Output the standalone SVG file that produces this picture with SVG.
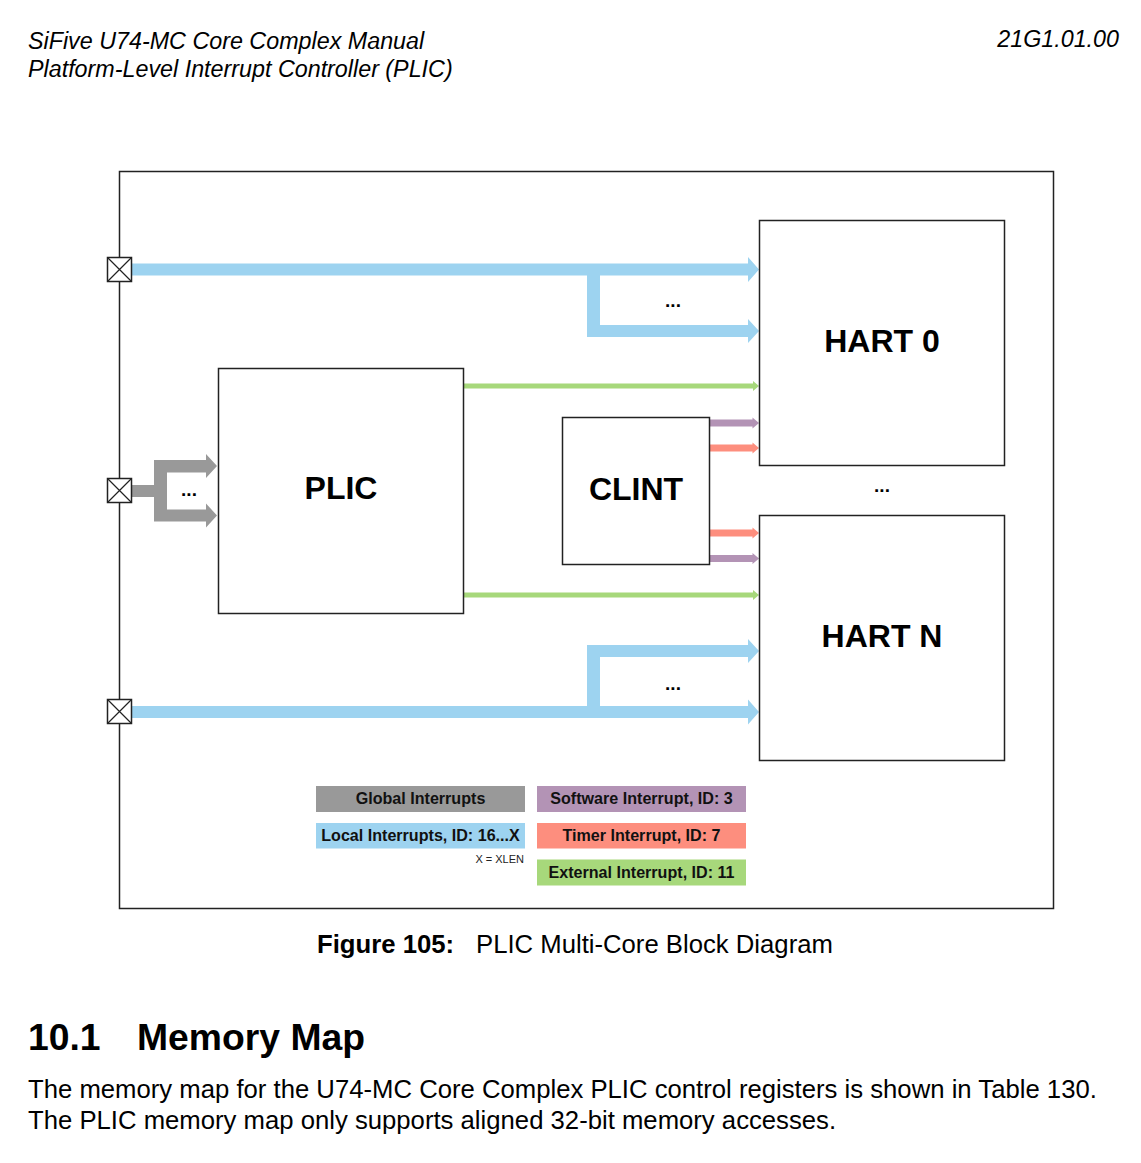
<svg xmlns="http://www.w3.org/2000/svg" width="1141" height="1163" viewBox="0 0 1141 1163">
<style>
.hdr{font-family:"Liberation Sans",Arial,sans-serif;font-style:italic;font-size:23.3px;fill:#000}
.box{fill:#fff;stroke:#222;stroke-width:1.5}
.big{font-family:"Liberation Sans",Arial,sans-serif;font-weight:bold;font-size:32px;fill:#000;text-anchor:middle}
.dots{font-family:"Liberation Sans",Arial,sans-serif;font-weight:bold;font-size:19px;fill:#000;text-anchor:middle}
.leg{font-family:"Liberation Sans",Arial,sans-serif;font-weight:bold;font-size:16.1px;fill:#111;text-anchor:middle}
.blue{fill:#9dd3f0}
.gray{fill:#999}
.green{fill:#a7d87b}
.purple{fill:#b393b5}
.salmon{fill:#fd8e7e}
.jb{fill:#fff;stroke:#222;stroke-width:1.5}
.body{font-family:"Liberation Sans",Arial,sans-serif;font-size:25.7px;fill:#000}
</style>
<text class="hdr" x="28" y="49">SiFive U74-MC Core Complex Manual</text>
<text class="hdr" x="28" y="77">Platform-Level Interrupt Controller (PLIC)</text>
<text class="hdr" x="1119" y="47" text-anchor="end">21G1.01.00</text>

<rect x="119.5" y="171.5" width="934" height="737" fill="none" stroke="#222" stroke-width="1.5"/>

<g id="connectors">
<path class="blue" d="M132,263.5 H748 V257 L759,269.5 L748,282 V275.5 H132 Z"/>
<path class="blue" d="M587,275 H600 V325 H748 V319 L759,331 L748,343 V337 H587 Z"/>
<path class="blue" d="M132,706 H748 V699.5 L759,712 L748,724.5 V718 H132 Z"/>
<path class="blue" d="M587,706 V645 H748 V639 L759,651 L748,663 V657 H600 V706 Z"/>
<path class="gray" d="M132,485 H154 V460 H206 V454 L217,466 L206,478 V472.5 H167 V509.5 H206 V503.5 L217,515.5 L206,527.5 V521.5 H154 V497 H132 Z"/>
<path class="green" d="M464,383.5 H753 V381 L759,386 L753,391 V388.5 H464 Z"/>
<path class="green" d="M464,592.5 H753 V590 L759,595 L753,600 V597.5 H464 Z"/>
<path class="purple" d="M710,419.5 H752.5 V417.5 L759,423 L752.5,428.5 V426.5 H710 Z"/>
<path class="salmon" d="M710,444.5 H752.5 V442.5 L759,448 L752.5,453.5 V451.5 H710 Z"/>
<path class="salmon" d="M710,529.5 H752.5 V527.5 L759,533 L752.5,538.5 V536.5 H710 Z"/>
<path class="purple" d="M710,555 H752.5 V553 L759,558.5 L752.5,564 V562 H710 Z"/>
</g>

<g id="port-top">
<rect class="jb" x="107.5" y="257.5" width="24" height="24"/>
<path d="M107.5,257.5 L131.5,281.5 M131.5,257.5 L107.5,281.5" stroke="#222" stroke-width="1.2"/>
</g>
<g id="port-mid">
<rect class="jb" x="107.5" y="478.5" width="24" height="24"/>
<path d="M107.5,478.5 L131.5,502.5 M131.5,478.5 L107.5,502.5" stroke="#222" stroke-width="1.2"/>
</g>
<g id="port-bot">
<rect class="jb" x="107.5" y="699.5" width="24" height="24"/>
<path d="M107.5,699.5 L131.5,723.5 M131.5,699.5 L107.5,723.5" stroke="#222" stroke-width="1.2"/>
</g>

<g id="plic">
<rect class="box" x="218.5" y="368.5" width="245" height="245"/>
<text class="big" x="341" y="499">PLIC</text>
</g>
<g id="clint">
<rect class="box" x="562.5" y="417.5" width="147" height="147"/>
<text class="big" x="636" y="500">CLINT</text>
</g>
<g id="hart0">
<rect class="box" x="759.5" y="220.5" width="245" height="245"/>
<text class="big" x="882" y="352">HART 0</text>
</g>
<g id="hartn">
<rect class="box" x="759.5" y="515.5" width="245" height="245"/>
<text class="big" x="882" y="647">HART N</text>
</g>

<g id="dots">
<text class="dots" x="189" y="496">...</text>
<text class="dots" x="673" y="307">...</text>
<text class="dots" x="673" y="690">...</text>
<text class="dots" x="882" y="492">...</text>
</g>

<g id="legend">
<rect x="316" y="786" width="209" height="26" fill="#999"/>
<text class="leg" x="420.5" y="804">Global Interrupts</text>
<rect x="316" y="823" width="209" height="25.5" fill="#9dd3f0"/>
<text class="leg" x="420.5" y="841">Local Interrupts, ID: 16...X</text>
<text x="524" y="862.5" text-anchor="end" font-family="Liberation Sans,Arial,sans-serif" font-size="11px" fill="#222">X = XLEN</text>
<rect x="537" y="786" width="209" height="26" fill="#b393b5"/>
<text class="leg" x="641.5" y="804">Software Interrupt, ID: 3</text>
<rect x="537" y="823" width="209" height="25.5" fill="#fd8e7e"/>
<text class="leg" x="641.5" y="841">Timer Interrupt, ID: 7</text>
<rect x="537" y="859.5" width="209" height="26" fill="#a7d87b"/>
<text class="leg" x="641.5" y="877.5">External Interrupt, ID: 11</text>
</g>

<text class="body" x="317" y="953"><tspan font-weight="bold">Figure 105:</tspan></text>
<text class="body" x="476" y="953">PLIC Multi-Core Block Diagram</text>
<text x="28" y="1050" font-family="Liberation Sans,Arial,sans-serif" font-weight="bold" font-size="37.3px" fill="#000">10.1</text>
<text x="137" y="1050" font-family="Liberation Sans,Arial,sans-serif" font-weight="bold" font-size="37.3px" fill="#000">Memory Map</text>
<text class="body" x="28" y="1098">The memory map for the U74-MC Core Complex PLIC control registers is shown in Table 130.</text>
<text class="body" x="28" y="1129">The PLIC memory map only supports aligned 32-bit memory accesses.</text>
</svg>
